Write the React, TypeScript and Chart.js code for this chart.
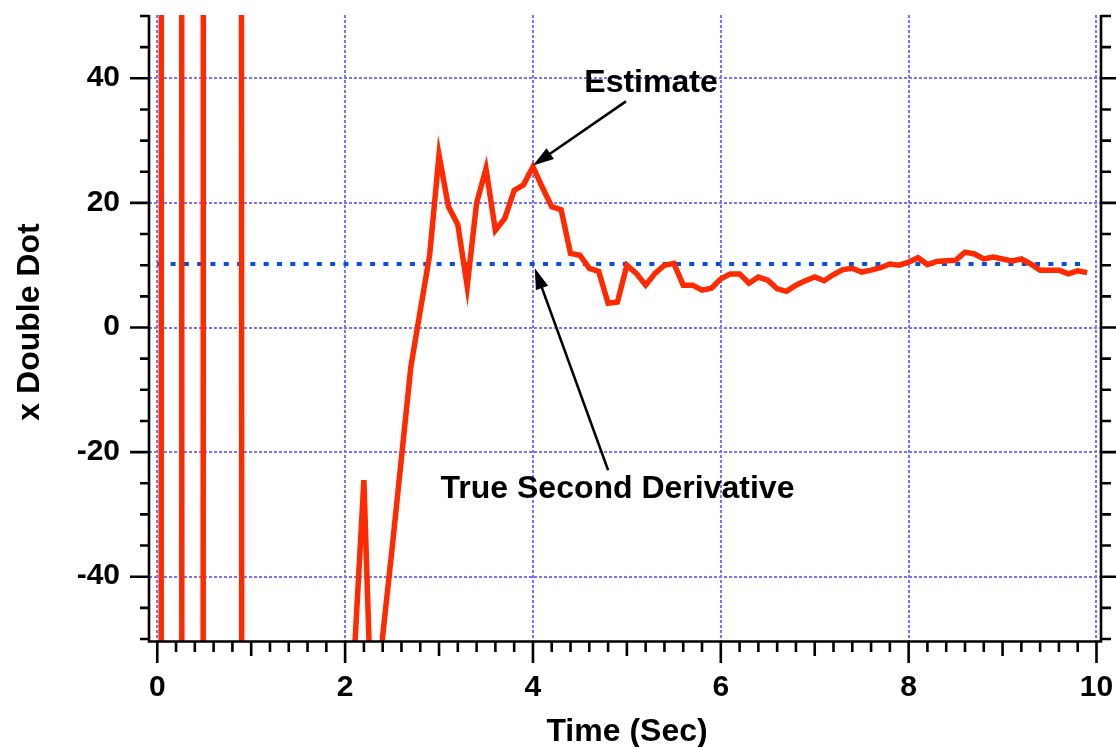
import React, { useEffect, useRef } from "react";
import { Chart, registerables } from "chart.js";

Chart.register(...registerables);

// ---- data ----
const TIME = [
  0.0, 0.1, 0.2, 0.3, 0.4, 0.5, 0.6, 0.7, 0.8, 0.9,
  1.0, 1.1, 1.2, 1.3, 1.4, 1.5, 1.6, 1.7, 1.8, 1.9,
  2.0, 2.1, 2.2, 2.3, 2.4, 2.5, 2.6, 2.7, 2.8, 2.9,
  3.0, 3.1, 3.2, 3.3, 3.4, 3.5, 3.6, 3.7, 3.8, 3.9,
  4.0, 4.1, 4.2, 4.3, 4.4, 4.5, 4.6, 4.7, 4.8, 4.9,
  5.0, 5.1, 5.2, 5.3, 5.4, 5.5, 5.6, 5.7, 5.8, 5.9,
  6.0, 6.1, 6.2, 6.3, 6.4, 6.5, 6.6, 6.7, 6.8, 6.9,
  7.0, 7.1, 7.2, 7.3, 7.4, 7.5, 7.6, 7.7, 7.8, 7.9,
  8.0, 8.1, 8.2, 8.3, 8.4, 8.5, 8.6, 8.7, 8.8, 8.9,
  9.0, 9.1, 9.2, 9.3, 9.4, 9.5, 9.6, 9.7, 9.8, 9.9,
];

const ESTIMATE = [
  -3900, 6100, 6600, -3400, -9400, 600, 2400, 1800, 4900, -100,
  -1800, -2600, -1500, -900, -2200, -1200, -600, -1400, -800, -400,
  -700, -52, -24.5, -72, -49.5, -35.5, -20.9, -6.3, 2.7, 11.6,
  27.7, 19.4, 16.5, 6.6, 20.0, 25.5, 15.6, 17.5, 22.0, 22.9,
  25.8, 22.5, 19.4, 18.9, 11.9, 11.6, 9.5, 9.0, 3.9, 4.1,
  10.0, 8.7, 6.8, 8.7, 10.0, 10.3, 6.8, 6.8, 6.0, 6.3,
  7.8, 8.6, 8.6, 7.1, 8.1, 7.6, 6.2, 5.8, 6.8, 7.5,
  8.1, 7.5, 8.5, 9.3, 9.5, 8.9, 9.2, 9.6, 10.2, 10.0,
  10.5, 11.2, 10.1, 10.6, 10.7, 10.8, 12.1, 11.8, 11.0, 11.3,
  11.0, 10.7, 11.0, 10.2, 9.2, 9.2, 9.2, 8.6, 9.1, 8.8,
];

const TRUE_VALUE = 10.2;
const TRUE_SPAN = [0, 9.9];

const X_TICKS = [0, 2, 4, 6, 8, 10];
const Y_TICKS = [-40, -20, 0, 20, 40];
const X_RANGE = [-0.088, 10.048];
const Y_RANGE = [-50.32, 50.16];

const X_TITLE = "Time (Sec)";
const Y_TITLE = "x Double Dot";

const ANNOTATIONS = [
  { text: "Estimate", textAt: [5.257, 37.85], from: [4.99, 36.3], to: [4.0, 26.0] },
  { text: "True Second Derivative", textAt: [4.9, -27.4], from: [4.8, -22.9], to: [4.02, 9.5] },
];

const FONT = "'Liberation Sans', Arial, Helvetica, sans-serif";

const decorPlugin = {
  id: "decor",
  afterDraw(chart: any) {
    const { ctx, chartArea: a, scales } = chart;
    const xs = scales.x;
    const ys = scales.y;
    ctx.save();
    ctx.strokeStyle = "#000";
    ctx.fillStyle = "#000";
    ctx.lineCap = "butt";
    ctx.lineWidth = 2.6;

    // spines
    ctx.beginPath();
    ctx.moveTo(a.left, a.top);
    ctx.lineTo(a.left, a.bottom + 1.8);
    ctx.moveTo(a.right, a.top);
    ctx.lineTo(a.right, a.bottom + 1.8);
    ctx.moveTo(a.left, a.bottom + 0.5);
    ctx.lineTo(a.right, a.bottom + 0.5);
    ctx.stroke();

    // y tick marks (every 5, long at multiples of 20)
    ctx.beginPath();
    for (let k = -10; k <= 10; k++) {
      const v = k * 5;
      const py = ys.getPixelForValue(v);
      const major = k % 4 === 0;
      ctx.moveTo(a.left - (major ? 19 : 9), py);
      ctx.lineTo(a.left, py);
      ctx.moveTo(a.right, py);
      ctx.lineTo(a.right + (major ? 18 : 10), py);
    }
    // x tick marks (every 0.2, medium at odd integers, long at even integers)
    for (let k = 0; k <= 50; k++) {
      const v = k * 0.2;
      const px = xs.getPixelForValue(v);
      const len = k % 10 === 0 ? 22 : k % 5 === 0 ? 15 : 11;
      ctx.moveTo(px, a.bottom);
      ctx.lineTo(px, a.bottom + len);
    }
    ctx.stroke();

    // tick labels, from the scales' own ticks
    ctx.font = `bold 30px ${FONT}`;
    ctx.textBaseline = "middle";
    ctx.textAlign = "center";
    xs.ticks.forEach((tk: any) => {
      const lbl = tk.label != null ? String(tk.label) : String(tk.value);
      ctx.fillText(lbl, xs.getPixelForValue(tk.value), 688);
    });
    ctx.textAlign = "right";
    ys.ticks.forEach((tk: any) => {
      const lbl = tk.label != null ? String(tk.label) : String(tk.value);
      ctx.fillText(lbl, a.left - 29, ys.getPixelForValue(tk.value) - 0.5);
    });

    // axis titles
    ctx.font = `bold 32px ${FONT}`;
    ctx.textAlign = "center";
    ctx.textBaseline = "alphabetic";
    ctx.fillText(X_TITLE, (a.left + a.right) / 2 + 2, 740.5);
    ctx.save();
    ctx.translate(38.5, (a.top + a.bottom) / 2 - 6);
    ctx.rotate(-Math.PI / 2);
    ctx.fillText(Y_TITLE, 0, 0);
    ctx.restore();

    // annotations
    for (const an of ANNOTATIONS) {
      const tx = xs.getPixelForValue(an.textAt[0]);
      const ty = ys.getPixelForValue(an.textAt[1]);
      ctx.fillText(an.text, tx, ty);
      const x0 = xs.getPixelForValue(an.from[0]);
      const y0 = ys.getPixelForValue(an.from[1]);
      const x1 = xs.getPixelForValue(an.to[0]);
      const y1 = ys.getPixelForValue(an.to[1]);
      const ang = Math.atan2(y1 - y0, x1 - x0);
      const headLen = 21;
      const headHalf = 6.5;
      const bx = x1 - headLen * Math.cos(ang);
      const by = y1 - headLen * Math.sin(ang);
      ctx.lineWidth = 2.6;
      ctx.beginPath();
      ctx.moveTo(x0, y0);
      ctx.lineTo(bx + 2 * Math.cos(ang), by + 2 * Math.sin(ang));
      ctx.stroke();
      ctx.beginPath();
      ctx.moveTo(x1, y1);
      ctx.lineTo(bx + headHalf * Math.sin(ang), by - headHalf * Math.cos(ang));
      ctx.lineTo(bx - headHalf * Math.sin(ang), by + headHalf * Math.cos(ang));
      ctx.closePath();
      ctx.fill();
    }
    ctx.restore();
  },
};

export default function App() {
  const ref = useRef<HTMLCanvasElement | null>(null);

  useEffect(() => {
    document.body.style.margin = "0";
    document.body.style.overflow = "hidden";
    const canvas = ref.current;
    if (!canvas) return;

    const estimatePoints = TIME.map((t, i) => ({ x: t, y: ESTIMATE[i] }));
    const truePoints = TRUE_SPAN.map((t) => ({ x: t, y: TRUE_VALUE }));

    const chart = new Chart(canvas, {
      type: "line",
      data: {
        datasets: [
          {
            label: "Estimate",
            data: estimatePoints,
            borderColor: "#ff2a00",
            borderWidth: 5.5,
            pointRadius: 0,
            tension: 0,
            fill: false,
            borderJoinStyle: "miter",
          },
          {
            label: "True Second Derivative",
            data: truePoints,
            borderColor: "#0b4fd8",
            borderWidth: 4,
            borderDash: [5, 8.3],
            borderCapStyle: "butt",
            pointRadius: 0,
            tension: 0,
            fill: false,
          },
        ],
      },
      options: {
        animation: false,
        responsive: false,
        devicePixelRatio: 1,
        layout: { padding: { left: 0, right: 15, top: 15, bottom: 0 } },
        plugins: {
          legend: { display: false },
          tooltip: { enabled: false },
        },
        scales: {
          x: {
            type: "linear",
            min: X_RANGE[0],
            max: X_RANGE[1],
            afterBuildTicks: (scale: any) => {
              scale.ticks = X_TICKS.map((value) => ({ value }));
            },
            afterFit: (scale: any) => {
              scale.height = 106;
            },
            ticks: { display: false, autoSkip: false, maxRotation: 0 },
            grid: {
              color: "#7474ff",
              lineWidth: 2,
              drawTicks: false,
            },
            border: { display: false, dash: [3, 2] },
          },
          y: {
            type: "linear",
            min: Y_RANGE[0],
            max: Y_RANGE[1],
            afterBuildTicks: (scale: any) => {
              scale.ticks = Y_TICKS.map((value) => ({ value }));
            },
            afterFit: (scale: any) => {
              scale.width = 149;
            },
            ticks: { display: false },
            grid: {
              color: "#7474ff",
              lineWidth: 2,
              drawTicks: false,
            },
            border: { display: false, dash: [3, 2] },
          },
        },
      },
      plugins: [decorPlugin],
    } as any);

    return () => chart.destroy();
  }, []);

  return (
    <div style={{ width: 1116, height: 747, background: "#fff" }}>
      <canvas ref={ref} width={1116} height={747} style={{ display: "block", width: 1116, height: 747 }} />
    </div>
  );
}
